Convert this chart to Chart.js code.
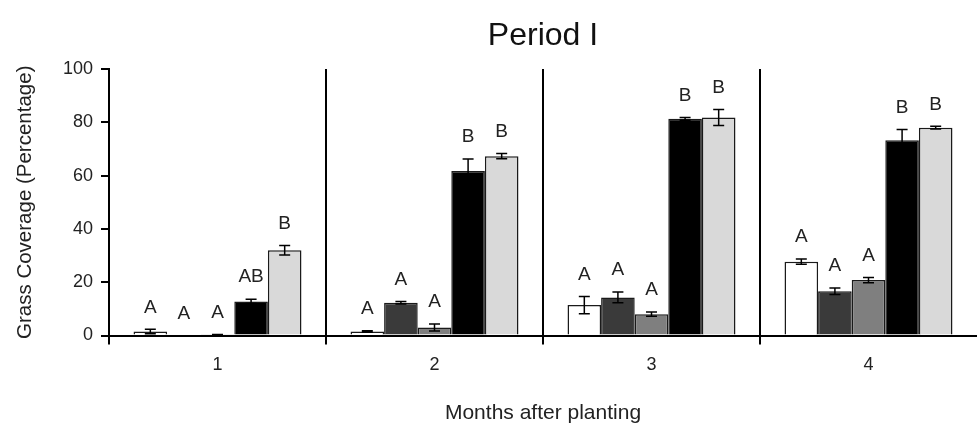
<!DOCTYPE html>
<html>
<head>
<meta charset="utf-8">
<script src="https://cdn.jsdelivr.net/npm/chart.js@4.4.1/dist/chart.umd.min.js"></script>
<style>
  html, body { margin: 0; padding: 0; background: #ffffff; }
  canvas { display: block; }
</style>
</head>
<body>
<canvas id="c" width="977" height="432"></canvas>
<script>
// ---- data ----
const months = ['1', '2', '3', '4'];
const yTicks = [0, 20, 40, 60, 80, 100];

const s1Values = [1.5, 1.5, 11.4, 27.7];
const s1Errors = [0.8, 0.3, 3.2, 1.0];
const s1Letters = ['A', 'A', 'A', 'A'];

const s2Values = [0, 12.3, 14.3, 16.6];
const s2Errors = [0, 0.5, 2.0, 1.2];
const s2Letters = ['A', 'A', 'A', 'A'];

const s3Values = [0.3, 3.0, 8.0, 20.8];
const s3Errors = [0.1, 1.3, 0.8, 1.0];
const s3Letters = ['A', 'A', 'A', 'A'];

const s4Values = [12.8, 61.7, 81.3, 73.3];
const s4Errors = [0.8, 4.5, 0.5, 4.0];
const s4Letters = ['AB', 'B', 'B', 'B'];

const s5Values = [32.0, 67.3, 81.8, 78.0];
const s5Errors = [1.8, 1.0, 3.0, 0.5];
const s5Letters = ['B', 'B', 'B', 'B'];

const titleText = 'Period I';
const yTitle = 'Grass Coverage (Percentage)';
const xTitle = 'Months after planting';

// ---- styling ----
const FONT = "'Liberation Sans', Arial, sans-serif";
const fills = ['#ffffff', '#3a3a3a', '#7f7f7f', '#000000', '#d9d9d9'];
const seriesValues = [s1Values, s2Values, s3Values, s4Values, s5Values];
const seriesErrors = [s1Errors, s2Errors, s3Errors, s4Errors, s5Errors];
const seriesLetters = [s1Letters, s2Letters, s3Letters, s4Letters, s5Letters];

const datasets = seriesValues.map((vals, i) => ({
  label: 'Treatment ' + (i + 1),
  data: vals,
  backgroundColor: fills[i],
  borderColor: '#1a1a1a',
  borderWidth: 1.5,
  borderSkipped: 'start',
  barPercentage: 1.0,
  categoryPercentage: 0.774
}));

const extrasPlugin = {
  id: 'extras',
  afterDatasetsDraw(chart) {
    const ctx = chart.ctx;
    const y = chart.scales.y;
    ctx.save();
    // error bars
    ctx.strokeStyle = '#000';
    ctx.lineWidth = 1.5;
    seriesErrors.forEach((errs, di) => {
      const meta = chart.getDatasetMeta(di);
      meta.data.forEach((bar, j) => {
        const v = seriesValues[di][j], e = errs[j];
        if (!e) return;
        const yt = y.getPixelForValue(v + e);
        const yb = y.getPixelForValue(Math.max(0, v - e));
        const x = bar.x, cap = 5.5;
        ctx.beginPath();
        ctx.moveTo(x, yt); ctx.lineTo(x, yb);
        ctx.moveTo(x - cap, yt); ctx.lineTo(x + cap, yt);
        ctx.moveTo(x - cap, yb); ctx.lineTo(x + cap, yb);
        ctx.stroke();
      });
    });
    // significance letters
    ctx.fillStyle = '#222';
    ctx.font = '19px ' + FONT;
    ctx.textAlign = 'center';
    ctx.textBaseline = 'middle';
    seriesLetters.forEach((lets, di) => {
      const meta = chart.getDatasetMeta(di);
      meta.data.forEach((bar, j) => {
        const top = y.getPixelForValue(seriesValues[di][j] + seriesErrors[di][j]);
        ctx.fillText(lets[j], bar.x, top - 22);
      });
    });
    // chart title centred on plot area
    const ca = chart.chartArea;
    ctx.fillStyle = '#111';
    ctx.font = '32px ' + FONT;
    ctx.fillText(titleText, (ca.left + ca.right) / 2, 36);
    ctx.restore();
  }
};

new Chart(document.getElementById('c'), {
  type: 'bar',
  data: { labels: months, datasets },
  options: {
    responsive: false,
    devicePixelRatio: 1,
    animation: false,
    layout: { padding: { top: 69, right: 0, left: 0, bottom: 0 } },
    plugins: {
      legend: { display: false },
      tooltip: { enabled: false },
      title: { display: false }
    },
    scales: {
      x: {
        offset: true,
        afterFit(s) { s.height = 96.5; },
        grid: {
          offset: true,
          drawOnChartArea: true,
          drawTicks: true,
          tickLength: 9,
          color: (c) => (c.index === undefined ? '#888888' : '#000000'),
          lineWidth: (c) => (c.index === undefined ? 1 : 2)
        },
        border: { display: true, color: '#000', width: 2 },
        ticks: { color: '#222', font: { family: FONT, size: 18 }, padding: 10 },
        title: {
          display: true, text: xTitle, color: '#222',
          font: { family: FONT, size: 21 }, padding: { top: 0, bottom: 6 }
        }
      },
      y: {
        min: 0, max: 100,
        afterFit(s) { s.width = 109; },
        afterBuildTicks(s) { s.ticks = yTicks.map(v => ({ value: v })); },
        grid: {
          drawOnChartArea: false,
          drawTicks: true,
          tickLength: 8,
          color: '#000',
          lineWidth: 2
        },
        border: { display: true, color: '#000', width: 2 },
        ticks: { color: '#222', font: { family: FONT, size: 18 }, padding: 8 },
        title: {
          display: true, text: yTitle, color: '#222',
          font: { family: FONT, size: 20.5 }, padding: { top: 13, bottom: 0 }
        }
      }
    }
  },
  plugins: [extrasPlugin]
});
</script>
</body>
</html>
